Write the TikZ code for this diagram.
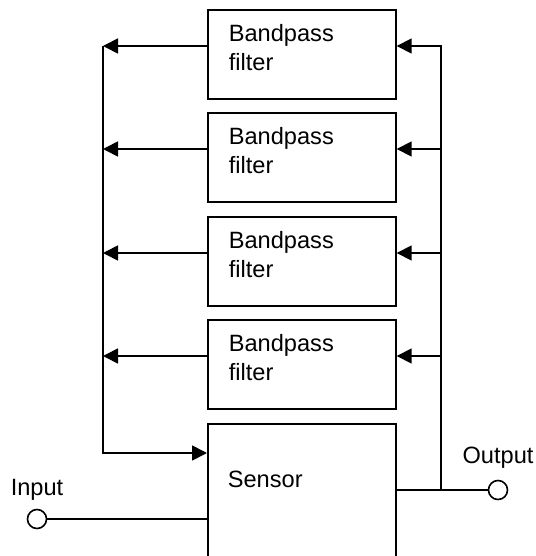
\documentclass[tikz,border=0pt]{standalone}
\usepackage{fontspec}
\setmainfont{Liberation Sans}
\usetikzlibrary{arrows.meta}
\begin{document}
\begin{tikzpicture}[x=1pt,y=-1pt,line width=1.7pt,
  txt/.style={font=\fontsize{23.6}{29}\selectfont, inner sep=0pt},
  box/.style={draw, rectangle, minimum width=188pt, inner sep=0pt, anchor=north west},
  filterbox/.style={box, txt, minimum height=89pt, align=left, text width=146pt, inner xsep=21pt, text depth=42pt},
  port/.style={draw, circle, minimum size=19pt, inner sep=0pt, line width=1.6pt},
  arr/.style={-{Triangle[length=15pt,width=15pt]}}]
\useasboundingbox (0,0) rectangle (535,556);
\clip (0,0) rectangle (535,556);

\node[filterbox] (f1) at (207,9) {Bandpass\\filter};
\node[filterbox] (f2) at (207,112) {Bandpass\\filter};
\node[filterbox] (f3) at (207,216) {Bandpass\\filter};
\node[filterbox] (f4) at (207,319) {Bandpass\\filter};
\node[box, minimum height=200pt] (sensor) at (207,423) {};
\node[txt, anchor=base west] (sensortext) at (227,487) {Sensor};

\node[port] (inport) at (37,519) {};
\node[port] (outport) at (498,490) {};
\node[txt, anchor=base] (inlbl) at (37,495) {Input};
\node[txt, anchor=base] (outlbl) at (498,463) {Output};

\coordinate (l1) at (103,46);
\coordinate (l2) at (103,149);
\coordinate (l3) at (103,253);
\coordinate (l4) at (103,356);
\coordinate (lin) at (103,453);
\coordinate (r1) at (441,46);
\coordinate (r2) at (441,149);
\coordinate (r3) at (441,253);
\coordinate (r4) at (441,356);
\coordinate (rj) at (441,490);

% left feedback
\draw[arr] (l1 -| f1.west) -- (l1);
\draw[arr] (l2 -| f2.west) -- (l2);
\draw[arr] (l3 -| f3.west) -- (l3);
\draw[arr] (l4 -| f4.west) -- (l4);
\draw[arr] (l1) -- (lin) -- (lin -| sensor.west);

% right distribution
\draw[arr] (rj) -- (r1) -- (r1 -| f1.east);
\draw[arr] (r2) -- (r2 -| f2.east);
\draw[arr] (r3) -- (r3 -| f3.east);
\draw[arr] (r4) -- (r4 -| f4.east);

% input / output
\draw (inport.east) -- (inport.east -| sensor.west);
\draw (rj -| sensor.east) -- (outport.west);
\end{tikzpicture}
\end{document}
